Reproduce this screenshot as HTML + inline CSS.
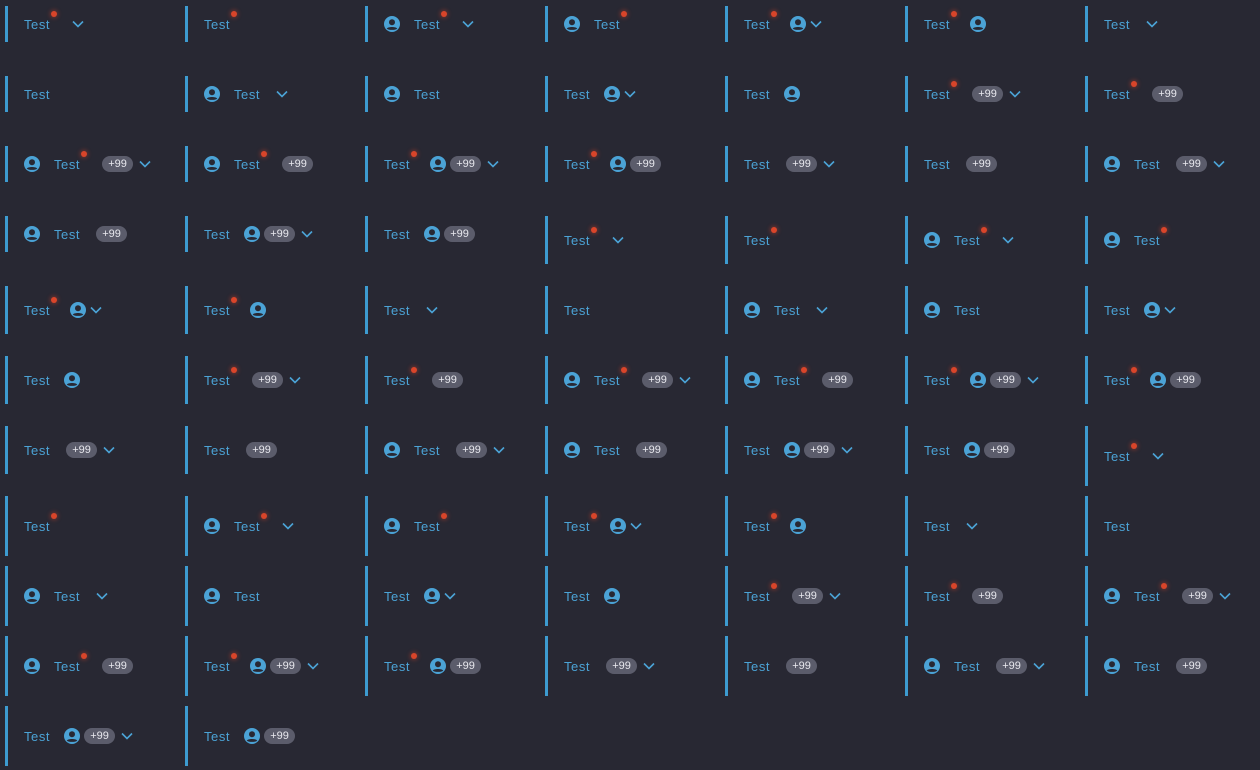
<!DOCTYPE html>
<html><head><meta charset="utf-8"><style>
html,body{margin:0;padding:0;background:#282833;width:1260px;height:770px;overflow:hidden}
.item{position:absolute;box-sizing:border-box;border-left:3px solid #3d9bd0;padding-left:16px;display:flex;align-items:center;font-family:"Liberation Sans",sans-serif;width:170px}
.txt{position:relative;color:#4ba3d6;font-size:13px;line-height:15px;letter-spacing:0.55px}
.dot{position:absolute;left:calc(100% + 1px);top:-6px;width:6px;height:6px;border-radius:50%;background:#d9452a;box-shadow:0 0 4px 1px rgba(217,69,42,.45)}
.badge{background:#5b5c6b;color:#e8e8ee;font-size:11px;height:16px;line-height:16px;width:31px;text-align:center;border-radius:8px}
svg{display:block}
</style></head><body>
<div id="root"></div>
<script>
const specs = [
"DC","D","LDC","LD","DTC","DT","C",
"","LC","L","TC","T","DBC","DB",
"LDBC","LDB","DTBC","DTB","BC","B","LBC",
"LB","TBC","TB","DC","D","LDC","LD",
"DTC","DT","C","","LC","L","TC",
"T","DBC","DB","LDBC","LDB","DTBC","DTB",
"BC","B","LBC","LB","TBC","TB","DC",
"D","LDC","LD","DTC","DT","C","",
"LC","L","TC","T","DBC","DB","LDBC",
"LDB","DTBC","DTB","BC","B","LBC","LB",
"TBC","TB"];
const NS="http://www.w3.org/2000/svg";
function userIcon(){
  const s=document.createElementNS(NS,'svg');
  s.setAttribute('width','16');s.setAttribute('height','16');s.setAttribute('viewBox','0 0 16 16');
  s.innerHTML='<circle cx="8" cy="8" r="8" fill="#4ba3d6"/><circle cx="8" cy="6.3" r="3" fill="#282833"/><path d="M2.8 12.6 C4 10.4 12 10.4 13.2 12.6 C11.8 14.3 4.2 14.3 2.8 12.6Z" fill="#282833"/>';
  
  
  return s;
}
function chevron(){
  const s=document.createElementNS(NS,'svg');
  s.setAttribute('width','12');s.setAttribute('height','8');s.setAttribute('viewBox','0 0 12 8');
  s.innerHTML='<path d="M1 1.5 L6 6.5 L11 1.5" fill="none" stroke="#4ba3d6" stroke-width="1.6"/>';
  
  
  return s;
}
const root=document.getElementById('root');
specs.forEach((sp,i)=>{
  const r=Math.floor(i/7),c=i%7;
  const h=i<24?36:(i<48?48:60);
  const it=document.createElement('div');
  it.className='item';
  
  
  it.style.left=(5+180*c)+'px';it.style.top=(6+70*r)+'px';it.style.height=h+'px';
  const L=sp.includes('L'),D=sp.includes('D'),T=sp.includes('T'),B=sp.includes('B'),C=sp.includes('C');
  if(L){const u=userIcon();u.style.marginRight='14px';it.appendChild(u);}
  const t=document.createElement('span');t.className='txt';t.textContent='Test';
  
  
  if(T||B||C) t.style.marginRight=(D?22:16)+'px';
  if(D){const d=document.createElement('span');d.className='dot';
    
    
    t.appendChild(d);}
  it.appendChild(t);
  let prev='text';
  if(T){const u=userIcon();u.style.marginLeft='-2px';it.appendChild(u);prev='icon';}
  if(B){const b=document.createElement('span');b.className='badge';b.textContent='+99';
    
    
    if(prev==='icon')b.style.marginLeft='4px';it.appendChild(b);prev='badge';}
  if(C){const ch=chevron();if(prev==='icon')ch.style.marginLeft='4px';else if(prev==='badge')ch.style.marginLeft='6px';it.appendChild(ch);}
  root.appendChild(it);
});
</script>
</body></html>
